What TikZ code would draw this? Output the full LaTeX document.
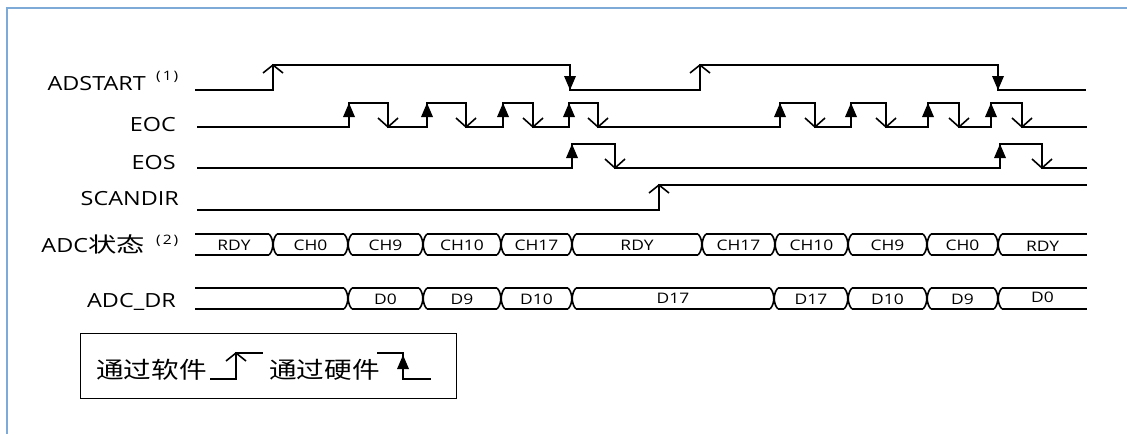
\documentclass[tikz,border=0pt]{standalone}
\usepackage{fontspec}
\setmainfont{Open Sans}[FakeStretch=1.2]
\newfontfamily\cjkw{Noto Sans CJK SC}[FakeStretch=1.35]
\newfontfamily\cjkn{Noto Sans CJK SC}[FakeStretch=1.2]
\definecolor{framec}{RGB}{125,170,215}
\newcommand{\swup}[2]{\draw[arrw] (#1-10,#2+8) -- (#1,#2) -- (#1+10,#2+8);}
\newcommand{\swdown}[2]{\draw[arrw] (#1-10,#2-9) -- (#1,#2) -- (#1+10,#2-9);}
\newcommand{\hwup}[2]{\fill (#1,#2) -- (#1-6,#2+14) -- (#1+6,#2+14) -- cycle;}
\newcommand{\hwdown}[2]{\fill (#1,#2) -- (#1-6,#2-14) -- (#1+6,#2-14) -- cycle;}
\newcommand{\busx}[3]{%
  \draw[bus] (#1-4,#2) .. controls (#1+1,#2+5) and (#1+1,#3-5) .. (#1-4,#3);
  \draw[bus] (#1+4,#2) .. controls (#1-1,#2+5) and (#1-1,#3-5) .. (#1+4,#3);}
\newcommand{\busseg}[4]{%
  \draw[bus] (#1,#3) -- (#2,#3);
  \draw[bus] (#1,#4) -- (#2,#4);}
\tikzset{
  sig/.style={line width=2pt, line join=miter},
  arrw/.style={line width=1.6pt},
  bus/.style={line width=1.6pt},
  lbl/.style={anchor=base east, inner sep=0pt, font=\fontsize{19.5}{20}\selectfont},
  sup/.style={anchor=base west, inner sep=0pt, font=\fontsize{13}{13}\selectfont},
  bt/.style={inner sep=0pt, font=\fontsize{14.5}{14.5}\selectfont},
  lg/.style={anchor=base west, inner sep=0pt, font=\cjkn\fontsize{23}{23}\selectfont}
}
\begin{document}
\begin{tikzpicture}[x=1pt,y=-1pt]
\useasboundingbox (0,0) rectangle (1127,434);
% frame
\draw[framec, line width=1.2pt] (7,434) -- (7,8) -- (1127,8);

% labels
\node[lbl] (lADSTART) at (146,90) {ADSTART};
\node[sup] (s1) at (156,80) {(\hspace{2pt}1\hspace{2pt})};
\node[lbl] (lEOC) at (176,131) {EOC};
\node[lbl] (lEOS) at (176,169) {EOS};
\node[lbl] (lSCAN) at (179,205) {SCANDIR};
\node[lbl] (lADC) at (145,252) {ADC{\cjkw\fontsize{21}{21}\selectfont 状态}};
\node[sup] (s2) at (156,244) {(\hspace{2pt}2\hspace{2pt})};
\node[lbl] (lDR) at (176,307) {ADC\_DR};

% ADSTART
\draw[sig] (195,90) -- (273,90) -- (273,65) -- (570,65) -- (570,90) -- (700,90) -- (700,65) -- (998,65) -- (998,90) -- (1086,90);
\swup{273}{65}
\hwdown{570}{90}
\swup{700}{65}
\hwdown{998}{90}

% EOC
\draw[sig] (197,127) -- (349,127) -- (349,103) -- (388,103) -- (388,127)
  -- (427,127) -- (427,103) -- (466,103) -- (466,127)
  -- (503,127) -- (503,103) -- (533,103) -- (533,127)
  -- (569,127) -- (569,103) -- (598,103) -- (598,127)
  -- (780,127) -- (780,103) -- (815,103) -- (815,127)
  -- (851,127) -- (851,103) -- (886,103) -- (886,127)
  -- (928,127) -- (928,103) -- (959,103) -- (959,127)
  -- (991,127) -- (991,103) -- (1022,103) -- (1022,127) -- (1087,127);
\foreach \r/\f in {349/388,427/466,503/533,569/598,780/815,851/886,928/959,991/1022}{
  \hwup{\r}{103}
  \swdown{\f}{127}
}

% EOS
\draw[sig] (197,168) -- (572,168) -- (572,144) -- (615,144) -- (615,168)
  -- (1000,168) -- (1000,144) -- (1042,144) -- (1042,168) -- (1087,168);
\hwup{572}{144}
\swdown{615}{168}
\hwup{1000}{144}
\swdown{1042}{168}

% SCANDIR
\draw[sig] (197,210) -- (659,210) -- (659,185) -- (1087,185);
\swup{659}{185}

% ADC state bus
\busseg{195}{269}{234}{255}
\busseg{277}{344}{234}{255}
\busseg{352}{419}{234}{255}
\busseg{427}{497}{234}{255}
\busseg{505}{568}{234}{255}
\busseg{576}{698}{234}{255}
\busseg{706}{771}{234}{255}
\busseg{779}{844}{234}{255}
\busseg{852}{923}{234}{255}
\busseg{931}{994}{234}{255}
\busseg{1002}{1087}{234}{255}
\foreach \t in {273,348,423,501,572,702,775,848,927,998}{\busx{\t}{234}{255}}
\node[bt] (a1) at (234,245) {RDY};
\node[bt] (a2) at (310.5,245) {CH0};
\node[bt] (a3) at (385.5,245) {CH9};
\node[bt] (a4) at (462,245) {CH10};
\node[bt] (a5) at (536.5,245) {CH17};
\node[bt] (a6) at (637,245) {RDY};
\node[bt] (a7) at (738.5,245) {CH17};
\node[bt] (a8) at (811.5,245) {CH10};
\node[bt] (a9) at (887.5,245) {CH9};
\node[bt] (a10) at (962.5,245) {CH0};
\node[bt] (a11) at (1042.5,246) {RDY};

% ADC_DR bus
\busseg{195}{344}{288}{309}
\busseg{352}{419}{288}{309}
\busseg{427}{497}{288}{309}
\busseg{505}{568}{288}{309}
\busseg{576}{770}{288}{309}
\busseg{778}{844}{288}{309}
\busseg{852}{923}{288}{309}
\busseg{931}{994}{288}{309}
\busseg{1002}{1087}{288}{309}
\foreach \t in {348,423,501,572,774,848,927,998}{\busx{\t}{288}{309}}
\node[bt] (d1) at (385.5,299) {D0};
\node[bt] (d2) at (462,299) {D9};
\node[bt] (d3) at (536.5,299) {D10};
\node[bt] (d4) at (673,298) {D17};
\node[bt] (d5) at (811,299) {D17};
\node[bt] (d6) at (887.5,299) {D10};
\node[bt] (d7) at (962.5,299) {D9};
\node[bt] (d8) at (1042.5,297) {D0};

% legend
\draw[line width=1pt] (80,333) rectangle (456,398);
\node[lg] (sw) at (96,378) {通过软件};
\draw[sig] (210,379) -- (236,379) -- (236,353) -- (263,353);
\swup{236}{353}
\node[lg] (hw) at (269,378) {通过硬件};
\draw[sig] (377,353) -- (403,353) -- (403,379) -- (431,379);
\hwup{403}{355}
\end{tikzpicture}
\end{document}
